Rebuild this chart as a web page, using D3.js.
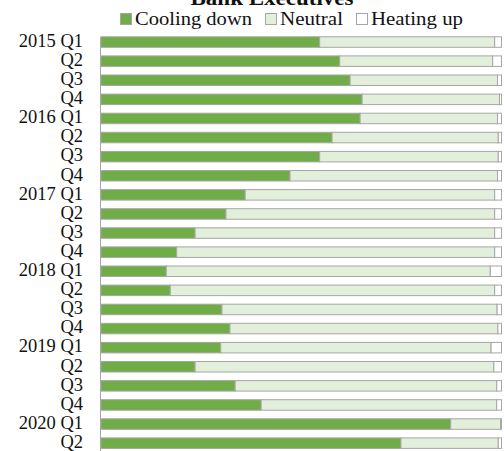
<!DOCTYPE html>
<html>
<head>
<meta charset="utf-8">
<script src="https://cdn.jsdelivr.net/npm/d3@7"></script>
<style>
  html, body { margin: 0; padding: 0; background: #fff; }
  svg { display: block; }
  text { font-family: "Liberation Serif", "DejaVu Serif", serif; fill: #111; }
</style>
</head>
<body>
<svg id="chart" width="504" height="451"></svg>
<script>
// Quarterly survey shares (%) of bank executives
const quarters = ["2015 Q1","2015 Q2","2015 Q3","2015 Q4","2016 Q1","2016 Q2","2016 Q3","2016 Q4",
                  "2017 Q1","2017 Q2","2017 Q3","2017 Q4","2018 Q1","2018 Q2","2018 Q3","2018 Q4",
                  "2019 Q1","2019 Q2","2019 Q3","2019 Q4","2020 Q1","2020 Q2"];
const tickLabels = ["2015 Q1","Q2","Q3","Q4","2016 Q1","Q2","Q3","Q4",
                    "2017 Q1","Q2","Q3","Q4","2018 Q1","Q2","Q3","Q4",
                    "2019 Q1","Q2","Q3","Q4","2020 Q1","Q2"];
const coolingDown = [54.6, 59.6, 62.2, 65.2, 64.7, 57.7, 54.6, 47.2, 36.0, 31.2, 23.5, 18.9,
                     16.3, 17.3, 30.2, 32.2, 29.9, 23.5, 33.5, 40.0, 87.3, 74.9];
const neutral     = [43.7, 38.2, 36.8, 34.3, 34.3, 41.5, 44.6, 51.8, 62.3, 67.1, 74.8, 79.4,
                     80.9, 81.0, 68.7, 66.9, 67.5, 74.6, 65.3, 58.8, 12.5, 24.3];
const heatingUp   = [1.7, 2.2, 1.0, 0.5, 1.0, 0.8, 0.8, 1.0, 1.7, 1.7, 1.7, 1.7,
                     2.8, 1.7, 1.1, 0.9, 2.6, 1.9, 1.2, 1.2, 0.2, 0.8];
const seriesNames = ["Cooling down", "Neutral", "Heating up"];
const seriesColors = ["#70ad47", "#e2efda", "#ffffff"];

const rows = quarters.map((q, i) => ({
  quarter: q,
  "Cooling down": coolingDown[i],
  "Neutral": neutral[i],
  "Heating up": heatingUp[i]
}));

const svg = d3.select("#chart");

const x = d3.scaleLinear().domain([0, 100]).range([101, 501.5]);
const y = d3.scaleBand().domain(quarters).range([28.2, 457]).paddingInner(0.45).paddingOuter(0.45);
const color = d3.scaleOrdinal().domain(seriesNames).range(seriesColors);

const stacked = d3.stack().keys(seriesNames)(rows);

// Stacked bars
svg.append("g")
  .selectAll("g")
  .data(stacked)
  .join("g")
    .attr("fill", d => color(d.key))
  .selectAll("rect")
  .data(d => d)
  .join("rect")
    .attr("x", d => x(d[0]))
    .attr("y", d => y(d.data.quarter))
    .attr("width", d => x(d[1]) - x(d[0]))
    .attr("height", y.bandwidth())
    .attr("stroke", "#a6a6a6")
    .attr("stroke-width", 1);

// Category axis
const yAxis = svg.append("g")
  .attr("transform", "translate(100,0)")
  .call(d3.axisLeft(y).tickSize(0).tickPadding(17)
        .tickFormat((d, i) => tickLabels[i]));
yAxis.select(".domain").remove();
yAxis.selectAll("text")
  .attr("font-size", 18.5)
  .attr("dy", "0.26em")
  .style("font-family", "'Liberation Serif', 'DejaVu Serif', serif")
  .attr("fill", "#111");

svg.append("line")
  .attr("x1", 100.5).attr("x2", 100.5)
  .attr("y1", 37).attr("y2", 451)
  .attr("stroke", "#a6a6a6").attr("stroke-width", 1);

// Title
svg.append("text")
  .attr("x", 272).attr("y", 5)
  .attr("text-anchor", "middle")
  .attr("font-size", 20)
  .attr("font-weight", "bold")
  .attr("textLength", 163)
  .attr("lengthAdjust", "spacingAndGlyphs")
  .text("Bank Executives");

// Legend
const legendPos = [120, 265, 356];
const legendTextWidth = [117, 63, 92];
const legend = svg.append("g")
  .selectAll("g")
  .data(seriesNames)
  .join("g")
    .attr("transform", (d, i) => `translate(${legendPos[i]},13)`);
legend.append("rect")
  .attr("x", 0.5).attr("y", 0.5)
  .attr("width", 11).attr("height", 11)
  .attr("fill", d => color(d))
  .attr("stroke", "#a6a6a6");
legend.append("text")
  .attr("x", 15).attr("y", 11.5)
  .attr("font-size", 19)
  .attr("textLength", (d, i) => legendTextWidth[i])
  .attr("lengthAdjust", "spacingAndGlyphs")
  .text(d => d);
</script>
</body>
</html>
